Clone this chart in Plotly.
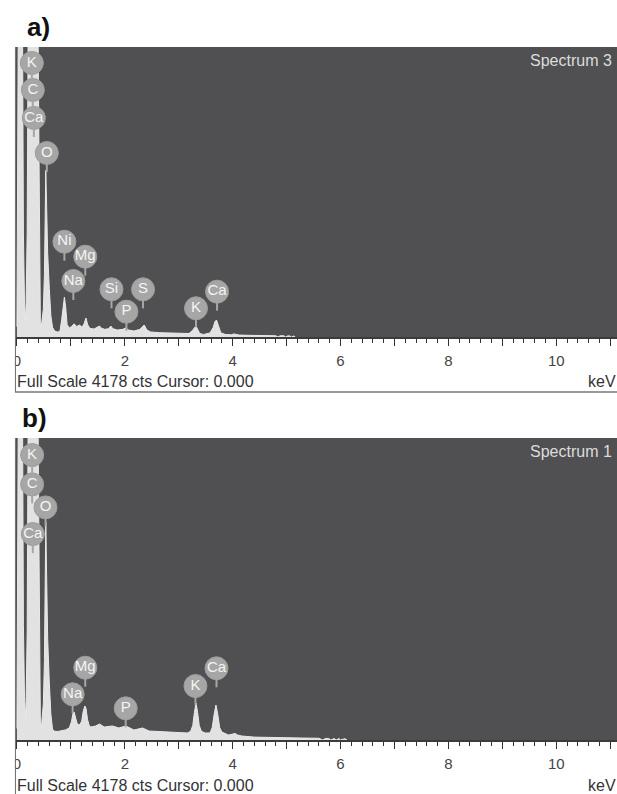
import plotly.graph_objects as go

W, H = 617, 794
FULL_SCALE = 4178

# Spectrum 3 (panel a): energy in keV and counts per channel
energy_a = [0.00, 0.03, 0.05, 0.08, 0.10, 0.12, 0.14, 0.165,
            0.19, 0.21, 0.23, 0.30, 0.37, 0.395, 0.415, 0.435,
            0.46, 0.49, 0.51, 0.525, 0.535, 0.55, 0.57, 0.60, 0.63, 0.66, 0.70,
            0.76, 0.80, 0.83, 0.855, 0.88, 0.905, 0.93, 0.97,
            1.01, 1.06, 1.11, 1.16, 1.21, 1.25, 1.28, 1.31, 1.35, 1.43,
            1.49, 1.53, 1.57, 1.63, 1.70, 1.74, 1.78, 1.86, 1.96, 2.02,
            2.07, 2.17, 2.28, 2.32, 2.36, 2.41, 2.48, 2.65, 2.82, 3.00,
            3.19, 3.25, 3.29, 3.32, 3.35, 3.39, 3.46,
            3.58, 3.64, 3.67, 3.70, 3.73, 3.78, 3.87,
            3.98, 4.02, 4.06, 4.12, 4.30, 4.50, 4.70, 4.80, 4.84, 4.88,
            4.95, 4.98, 5.02, 5.06, 5.09, 5.13, 5.16]
counts_a = [150, 5000, 9000, 9000, 5000, 1500, 500, 230,
            1500, 4000, 8000, 12000, 8000, 4000, 1500, 145,
            200, 400, 900, 1800, 2400, 1900, 1200, 700, 300, 140, 85,
            70, 90, 250, 450, 576, 420, 180, 130,
            150, 190, 150, 173, 140, 200, 274, 180, 125, 115,
            135, 158, 125, 110, 120, 158, 120, 100, 110, 130,
            100, 86, 110, 150, 173, 100, 72, 62, 58, 54,
            50, 90, 140, 160, 110, 50, 36,
            58, 140, 220, 245, 170, 60, 36,
            32, 45, 40, 28, 24, 22, 20, 18, 0, 18,
            18, 0, 16, 16, 0, 15, 0]

# Spectrum 1 (panel b)
energy_b = [0.00, 0.03, 0.05, 0.08, 0.10, 0.12, 0.14, 0.165,
            0.19, 0.21, 0.23, 0.30, 0.37, 0.395, 0.415, 0.435,
            0.46, 0.49, 0.51, 0.525, 0.535, 0.55, 0.57, 0.60, 0.63, 0.66, 0.70,
            0.76, 0.82, 0.90, 0.97, 1.01, 1.04, 1.06, 1.09, 1.12, 1.16,
            1.20, 1.23, 1.26, 1.28, 1.31, 1.34, 1.37, 1.46, 1.53, 1.62,
            1.77, 1.89, 2.02, 2.17, 2.33, 2.45, 2.65, 2.82, 3.00, 3.16,
            3.22, 3.26, 3.29, 3.32, 3.35, 3.38, 3.42, 3.49,
            3.58, 3.62, 3.66, 3.69, 3.72, 3.76, 3.80, 3.92,
            3.99, 4.04, 4.09, 4.17, 4.40, 4.70, 5.00, 5.30, 5.60, 5.67,
            5.72, 5.78, 5.82, 5.88, 5.92, 5.97, 6.00, 6.05, 6.08, 6.12]
counts_b = [160, 5000, 9000, 9000, 5000, 1600, 600, 280,
            1500, 4000, 8000, 12000, 8000, 4000, 1500, 180,
            240, 500, 1100, 2200, 3020, 2300, 1400, 800, 350, 150, 120,
            118, 124, 140, 166, 250, 370, 387, 300, 220, 207,
            260, 400, 470, 440, 280, 200, 180, 194, 221, 180,
            194, 166, 194, 138, 166, 124, 115, 111, 104, 97,
            120, 200, 380, 512, 380, 200, 120, 97,
            97, 170, 370, 484, 370, 170, 110, 69,
            80, 91, 70, 55, 40, 33, 30, 27, 24, 0,
            22, 22, 0, 20, 0, 20, 0, 18, 18, 0]

# Element markers: symbol, energy (keV), badge level (counts)
label_sym_a = ["K", "C", "Ca", "O", "Ni", "Mg", "Na", "Si", "S", "P", "K", "Ca"]
label_kev_a = [0.277, 0.295, 0.314, 0.554, 0.88, 1.267, 1.046, 1.753, 2.338, 2.03, 3.32, 3.71]
label_lvl_a = [3948, 3559, 3156, 2651, 1373, 1157, 807, 687, 687, 365, 414, 653]

label_sym_b = ["K", "C", "O", "Ca", "Mg", "Na", "P", "K", "Ca"]
label_kev_b = [0.282, 0.282, 0.53, 0.295, 1.267, 1.033, 2.017, 3.31, 3.70]
label_lvl_b = [3942, 3536, 3218, 2849, 1000, 632, 438, 747, 992]

spectrum_names = ["Spectrum 3", "Spectrum 1"]
panel_tags = ["a)", "b)"]
tick_values = list(range(0, 12))
tick_text = [str(v) if v % 2 == 0 else "" for v in tick_values]

FONT = "Liberation Sans, Arial, sans-serif"
DARK = "#505052"
FILL = "#e2e2e2"
BADGE = "#a6a6a6"


def px(x):
    return x / W


def py(y):
    return 1 - y / H


# panel pixel geometry: (top of plot area, axis line)
panels = [(47, 337), (438, 740)]
x_left_px = 13
kev_per_px = 1 / 54.2
x_range = [(x_left_px - 14) * kev_per_px, (W - 14) * kev_per_px]

fig = go.Figure()
layout = dict(
    width=W, height=H,
    margin=dict(l=0, r=0, t=0, b=0),
    paper_bgcolor="white", plot_bgcolor=DARK,
    showlegend=False,
    font=dict(family=FONT),
)

shapes = []
annotations = []

data = [(energy_a, counts_a, label_sym_a, label_kev_a, label_lvl_a),
        (energy_b, counts_b, label_sym_b, label_kev_b, label_lvl_b)]

for i, ((top, base), (ex, cy, sym, kev, lvl)) in enumerate(zip(panels, data)):
    sfx = "" if i == 0 else str(i + 1)
    xa, ya = "x" + sfx, "y" + sfx
    layout["xaxis" + sfx] = dict(
        domain=[px(x_left_px), 1], range=x_range, anchor=ya,
        showgrid=False, zeroline=False,
        showline=True, linecolor="#3c3c3c", linewidth=1.5,
        ticks="outside", ticklen=7, tickwidth=1.2, tickcolor="#333",
        tickmode="array", tickvals=tick_values, ticktext=tick_text,
        tickfont=dict(size=15, color="#444", family=FONT),
        ticklabelstandoff=2,
        minor=dict(tickmode="linear", tick0=0, dtick=0.2, ticks="outside",
                   ticklen=4, tickwidth=1, tickcolor="#333"),
        fixedrange=True,
    )
    layout["yaxis" + sfx] = dict(
        domain=[py(base), py(top)], range=[0, FULL_SCALE], anchor=xa,
        visible=False, fixedrange=True,
    )

    fig.add_trace(go.Scatter(
        x=ex, y=cy, xaxis=xa, yaxis=ya, mode="lines",
        fill="tozeroy", fillcolor=FILL,
        line=dict(color="#e9e9e9", width=1),
        hoverinfo="skip",
    ))

    # stems under the element badges
    for k, l in zip(kev, lvl):
        shapes.append(dict(
            type="line", xref=xa, yref=ya, x0=k, x1=k,
            ysizemode="pixel", yanchor=l, y0=-10, y1=-19,
            line=dict(color=BADGE, width=2), layer="above",
        ))

    fig.add_trace(go.Scatter(
        x=kev, y=lvl, xaxis=xa, yaxis=ya, mode="markers+text",
        text=sym, textposition="middle center",
        textfont=dict(color="#f4f4f4", size=15, family=FONT),
        marker=dict(size=23, color=BADGE, line=dict(color="#9c9c9c", width=1)),
        cliponaxis=False, hoverinfo="skip",
    ))

    # frame around the panel
    bottom = base + 55
    shapes.append(dict(type="rect", xref="paper", yref="paper",
                       x0=0, x1=px(12), y0=py(base + 40), y1=py(base + 2),
                       fillcolor="white", line=dict(width=0), layer="above"))
    shapes.append(dict(type="line", xref="paper", yref="paper",
                       x0=px(12.5), x1=px(12.5), y0=py(top), y1=py(min(bottom, H)),
                       line=dict(color="#6e6e6e", width=1), layer="above"))
    if bottom < H:
        shapes.append(dict(type="line", xref="paper", yref="paper",
                           x0=px(12), x1=1, y0=py(bottom), y1=py(bottom),
                           line=dict(color="#777", width=1.5), layer="above"))

    annotations += [
        dict(text="<b>" + panel_tags[i] + "</b>", xref="paper", yref="paper",
             x=px(22 if i == 0 else 17), y=py(top - 20), xanchor="left", yanchor="middle",
             showarrow=False, font=dict(size=26, color="#111", family=FONT)),
        dict(text=spectrum_names[i], xref="paper", yref="paper",
             x=px(614), y=py(top + 13), xanchor="right", yanchor="middle",
             showarrow=False, font=dict(size=16, color="#dcdcdc", family=FONT)),
        dict(text=f"Full Scale {FULL_SCALE} cts Cursor: 0.000", xref="paper", yref="paper",
             x=px(12), y=py(base + 45), xanchor="left", yanchor="middle",
             showarrow=False, font=dict(size=16, color="#333", family=FONT)),
        dict(text="keV", xref="paper", yref="paper",
             x=px(618), y=py(base + 45), xanchor="right", yanchor="middle",
             showarrow=False, font=dict(size=16, color="#333", family=FONT)),
    ]

layout["shapes"] = shapes
layout["annotations"] = annotations
fig.update_layout(**layout)
fig.write_html("out.html")
